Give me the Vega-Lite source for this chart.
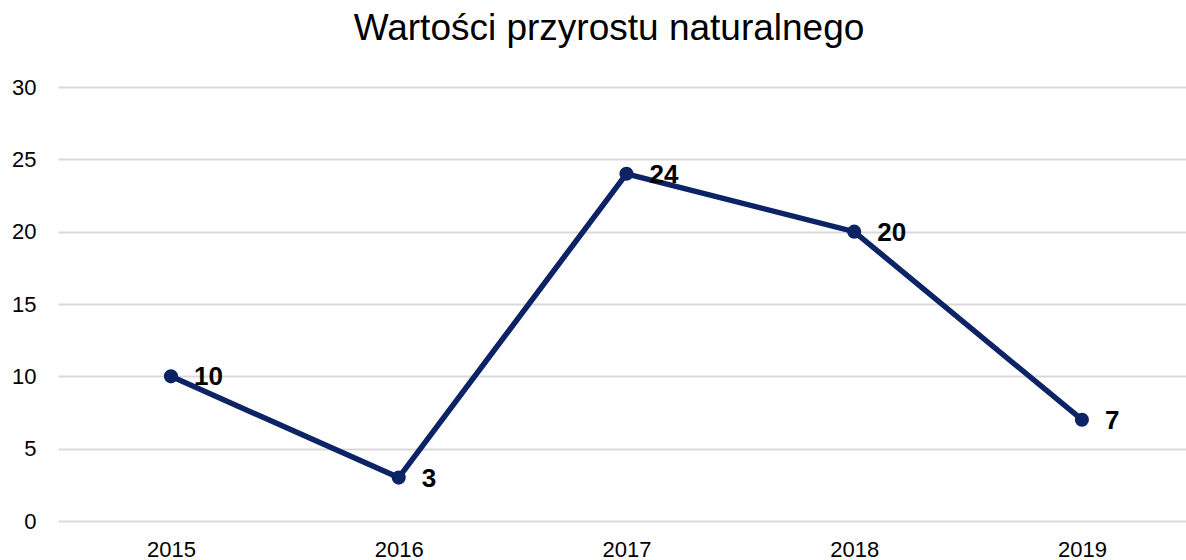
{
  "$schema": "https://vega.github.io/schema/vega-lite/v6.json",
  "width": 1128,
  "height": 434,
  "autosize": {"type": "none"},
  "padding": {"left": 58, "top": 87, "right": 0, "bottom": 39},
  "background": "white",
  "title": {
    "text": "Wartości przyrostu naturalnego",
    "font": "Liberation Sans",
    "fontSize": 37,
    "fontWeight": "normal",
    "color": "#000000",
    "anchor": "middle",
    "dx": -13,
    "offset": 28
  },
  "config": {
    "view": {"stroke": null},
    "axis": {"labelFont": "Liberation Sans", "labelColor": "#000000"}
  },
  "data": {
    "values": [
      {"year": 2015, "value": 10},
      {"year": 2016, "value": 3},
      {"year": 2017, "value": 24},
      {"year": 2018, "value": 20},
      {"year": 2019, "value": 7}
    ]
  },
  "encoding": {
    "x": {
      "field": "year",
      "type": "quantitative",
      "scale": {"domain": [2014.504, 2019.457], "nice": false, "zero": false},
      "axis": {
        "title": null,
        "values": [2015, 2016, 2017, 2018, 2019],
        "format": "d",
        "grid": false,
        "domain": false,
        "ticks": false,
        "labelFontSize": 22,
        "labelPadding": 18
      }
    },
    "y": {
      "field": "value",
      "type": "quantitative",
      "scale": {"domain": [0, 30], "nice": false},
      "axis": {
        "title": null,
        "values": [0, 5, 10, 15, 20, 25, 30],
        "grid": true,
        "gridColor": "#d9d9d9",
        "gridWidth": 2,
        "domain": false,
        "ticks": false,
        "labelFontSize": 22,
        "labelPadding": 22
      }
    }
  },
  "layer": [
    {"mark": {"type": "line", "color": "#0c2465", "strokeWidth": 5.5}},
    {"mark": {"type": "point", "filled": true, "color": "#0c2465", "size": 200, "opacity": 1}},
    {
      "mark": {"type": "text", "align": "left", "baseline": "middle", "dx": 23, "dy": 1, "font": "Liberation Sans", "fontSize": 26, "fontWeight": "bold", "color": "#000000"},
      "encoding": {"text": {"field": "value", "type": "quantitative"}}
    }
  ]
}
